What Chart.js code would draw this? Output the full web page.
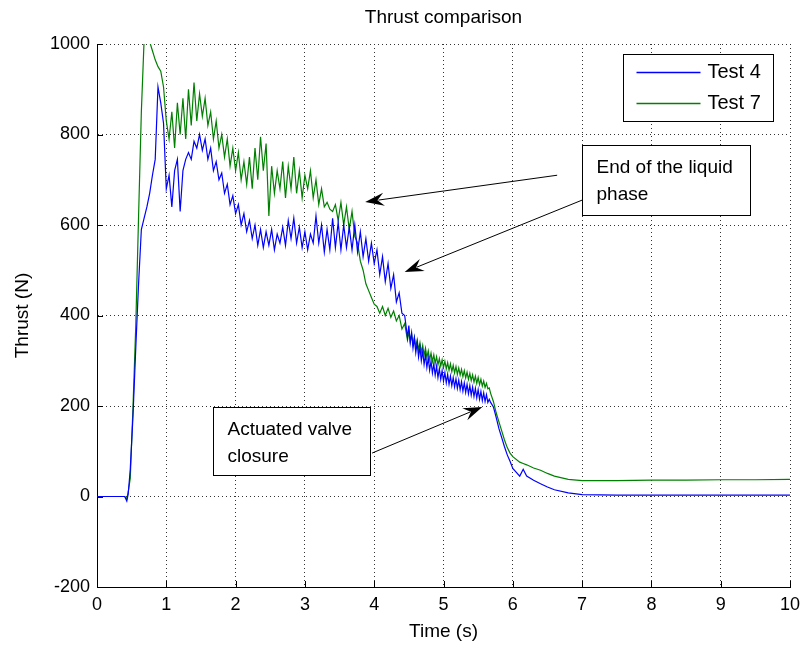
<!DOCTYPE html>
<html>
<head>
<meta charset="utf-8">
<script src="https://cdn.jsdelivr.net/npm/chart.js@4/dist/chart.umd.min.js"></script>
<style>
html,body{margin:0;padding:0;background:#fff;}
#wrap{width:800px;height:648px;position:relative;}
</style>
</head>
<body>
<div id="wrap"><canvas id="c" width="800" height="648"></canvas></div>
<script>
// ---------- data ----------
const chartTitle = 'Thrust comparison';
const xAxisTitle = 'Time (s)';
const yAxisTitle = 'Thrust (N)';
const seriesNames = ['Test 4', 'Test 7'];
const seriesColors = ['#0000ff', '#008000'];
const xTicks = [0, 1, 2, 3, 4, 5, 6, 7, 8, 9, 10];
const yTicks = [-200, 0, 200, 400, 600, 800, 1000];

const time = [
  0, 0.4, 0.43, 0.45,
  0.48, 0.52, 0.56, 0.60, 0.64, 0.68, 0.72, 0.76, 0.80, 0.84,
  0.88, 0.92, 0.96, 1.00, 1.04, 1.08, 1.12, 1.16, 1.20, 1.24,
  1.28, 1.32, 1.36, 1.40, 1.44, 1.48, 1.52, 1.56, 1.60, 1.64,
  1.68, 1.72, 1.76, 1.80, 1.84, 1.88, 1.92, 1.96, 2.00, 2.04,
  2.08, 2.12, 2.16, 2.20, 2.24, 2.28, 2.32, 2.36, 2.40, 2.44,
  2.48, 2.52, 2.56, 2.60, 2.64, 2.68, 2.72, 2.76, 2.80, 2.84,
  2.88, 2.92, 2.96, 3.00, 3.04, 3.08, 3.12, 3.16, 3.20, 3.24,
  3.28, 3.32, 3.36, 3.40, 3.44, 3.48, 3.52, 3.56, 3.60, 3.64,
  3.68, 3.72, 3.76, 3.80, 3.84, 3.88, 3.92, 3.96, 4.00, 4.04,
  4.08, 4.12, 4.16, 4.20, 4.24, 4.28, 4.32, 4.36, 4.40, 4.44,
  4.48, 4.50, 4.52, 4.54, 4.56, 4.58, 4.60, 4.62, 4.64, 4.66,
  4.68, 4.70, 4.72, 4.74, 4.76, 4.78, 4.80, 4.82, 4.84, 4.86,
  4.88, 4.90, 4.92, 4.94, 4.96, 4.98, 5.00, 5.02, 5.04, 5.06,
  5.08, 5.10, 5.12, 5.14, 5.16, 5.18, 5.20, 5.22, 5.24, 5.26,
  5.28, 5.30, 5.32, 5.34, 5.36, 5.38, 5.40, 5.42, 5.44, 5.46,
  5.48, 5.50, 5.52, 5.54, 5.56, 5.58, 5.60, 5.62, 5.64, 5.66,
  5.68, 5.72, 5.76, 5.80, 5.84, 5.88, 5.92, 5.96, 6.00,
  6.10, 6.15, 6.20, 6.30, 6.40, 6.50, 6.60, 6.80, 7.00, 7.50, 8.00, 8.50, 9.00, 9.50, 10.00
];

const thrustTest4 = [
  0, 0, -10, 5,
  60, 180, 330, 470, 590, 615, 640, 670, 710, 745,
  905, 870, 825, 680, 710, 640, 720, 745, 630, 720,
  745, 760, 745, 785, 770, 800, 765, 790, 745, 770,
  720, 740, 700, 715, 670, 690, 645, 665, 625, 645,
  600, 625, 585, 610, 570, 600, 555, 590, 550, 585,
  555, 590, 545, 580, 560, 595, 555, 610, 570, 615,
  560, 595, 550, 585, 545, 580, 560, 620, 560, 600,
  540, 590, 545, 615, 550, 605, 545, 600, 550, 595,
  545, 600, 540, 585, 530, 570, 520, 560, 515, 545,
  490, 530, 475, 515, 460, 490, 430, 450, 405, 400,
  352, 378, 340, 362, 328, 350, 318, 340, 308, 330,
  300, 321, 292, 313, 285, 306, 279, 299, 273, 293,
  268, 288, 263, 283, 259, 278, 255, 274, 251, 270,
  248, 266, 245, 263, 242, 260, 239, 257, 236, 254,
  233, 251, 230, 248, 227, 245, 224, 242, 221, 239,
  218, 236, 215, 232, 212, 229, 210, 225, 208, 215,
  208, 198, 175, 150, 130, 110, 92, 78, 62,
  45, 60, 45, 36, 28, 21, 15, 8, 4, 3, 3, 3, 3, 3, 3
];

const thrustTest7 = [
  0, 0, -5, 10,
  40, 200, 380, 620, 850, 1010, 1010, 1005, 985, 965,
  950, 940, 905, 830, 790, 850, 770, 870, 800, 880,
  790, 900, 820, 915, 830, 890, 840, 880, 820, 850,
  790, 830, 770, 800, 750, 790, 730, 770, 720, 760,
  700, 740, 690, 750, 680, 770, 700, 795, 720, 780,
  620, 730, 670, 720, 680, 740, 660, 730, 680, 750,
  670, 720, 660, 710, 680, 720, 660, 700, 645, 680,
  640, 650, 635, 630, 645, 610, 650, 600, 640, 590,
  630, 575, 560, 520, 500, 470, 455, 440, 425, 420,
  405, 420, 400, 416, 396, 410, 388, 400, 370, 382,
  346, 364, 342, 358, 336, 352, 330, 346, 324, 340,
  318, 334, 312, 328, 307, 322, 302, 317, 298, 313,
  294, 309, 291, 305, 288, 302, 285, 299, 282, 296,
  279, 293, 276, 290, 273, 287, 270, 284, 268, 281,
  265, 278, 262, 275, 259, 272, 256, 269, 253, 266,
  250, 263, 247, 259, 244, 255, 241, 250, 238, 240,
  228, 210, 185, 165, 145, 125, 108, 96, 88,
  76, 73, 70, 63, 58, 51, 45, 38, 35, 35, 36, 36, 37, 37, 38
];

// annotations (anchored in data units)
const noteBoxes = [
  { lines: ['End of the liquid', 'phase'], t0: 7.0, t1: 9.42, n0: 777, n1: 622 },
  { lines: ['Actuated valve', 'closure'], t0: 1.67, t1: 3.94, n0: 198, n1: 47 }
];
const noteArrows = [
  { from: [6.64, 710], to: [3.87, 651] },
  { from: [7.0, 655], to: [4.44, 496] },
  { from: [3.97, 96], to: [5.56, 198] }
];

// ---------- chart ----------
const FONT = '"Liberation Sans", Arial, sans-serif';

const overlay = {
  id: 'overlay',
  afterDatasetsDraw(chart) {
    const { ctx, chartArea: a, scales: { x, y } } = chart;
    ctx.save();
    // inward tick marks
    ctx.strokeStyle = '#000';
    ctx.lineWidth = 1;
    ctx.setLineDash([]);
    ctx.beginPath();
    xTicks.forEach(v => {
      const p = Math.round(x.getPixelForValue(v)) + 0.5;
      ctx.moveTo(p, a.bottom); ctx.lineTo(p, a.bottom - 6);
    });
    yTicks.forEach(v => {
      const p = Math.round(y.getPixelForValue(v)) + 0.5;
      ctx.moveTo(a.left, p); ctx.lineTo(a.left + 6, p);
    });
    ctx.stroke();

    // title
    ctx.fillStyle = '#000';
    ctx.font = '19px ' + FONT;
    ctx.textAlign = 'center';
    ctx.textBaseline = 'middle';
    ctx.fillText(chartTitle, (a.left + a.right) / 2, 18);

    // arrows
    noteArrows.forEach(ar => {
      const x0 = x.getPixelForValue(ar.from[0]), y0 = y.getPixelForValue(ar.from[1]);
      const x1 = x.getPixelForValue(ar.to[0]), y1 = y.getPixelForValue(ar.to[1]);
      const ang = Math.atan2(y1 - y0, x1 - x0);
      const L = 19, W = 6.5;
      const c = Math.cos(ang), s = Math.sin(ang);
      ctx.strokeStyle = '#000';
      ctx.lineWidth = 1;
      ctx.beginPath();
      ctx.moveTo(x0, y0);
      ctx.lineTo(x1 - c * L * 0.7, y1 - s * L * 0.7);
      ctx.stroke();
      ctx.fillStyle = '#000';
      ctx.beginPath();
      ctx.moveTo(x1, y1);
      ctx.lineTo(x1 - c * L - s * W, y1 - s * L + c * W);
      ctx.lineTo(x1 - c * L * 0.65, y1 - s * L * 0.65);
      ctx.lineTo(x1 - c * L + s * W, y1 - s * L - c * W);
      ctx.closePath();
      ctx.fill();
    });

    // text boxes
    noteBoxes.forEach(b => {
      const bx0 = Math.round(x.getPixelForValue(b.t0)) + 0.5;
      const bx1 = Math.round(x.getPixelForValue(b.t1)) + 0.5;
      const by0 = Math.round(y.getPixelForValue(b.n0)) + 0.5;
      const by1 = Math.round(y.getPixelForValue(b.n1)) + 0.5;
      ctx.fillStyle = '#fff';
      ctx.fillRect(bx0, by0, bx1 - bx0, by1 - by0);
      ctx.strokeStyle = '#000';
      ctx.lineWidth = 1;
      ctx.strokeRect(bx0, by0, bx1 - bx0, by1 - by0);
      ctx.fillStyle = '#000';
      ctx.font = '19px ' + FONT;
      ctx.textAlign = 'left';
      ctx.textBaseline = 'middle';
      b.lines.forEach((ln, i) => ctx.fillText(ln, bx0 + 14, by0 + 22 + i * 27));
    });

    // legend
    const lx0 = a.right - 166.5, ly0 = a.top + 10.5, lw = 150, lh = 67;
    ctx.fillStyle = '#fff';
    ctx.fillRect(lx0, ly0, lw, lh);
    ctx.strokeStyle = '#000';
    ctx.lineWidth = 1;
    ctx.strokeRect(lx0, ly0, lw, lh);
    ctx.font = '20px ' + FONT;
    ctx.textAlign = 'left';
    ctx.textBaseline = 'middle';
    seriesNames.forEach((nm, i) => {
      const ly = ly0 + 18 + i * 31;
      ctx.strokeStyle = seriesColors[i];
      ctx.lineWidth = 1.5;
      ctx.beginPath();
      ctx.moveTo(lx0 + 13, ly); ctx.lineTo(lx0 + 77, ly);
      ctx.stroke();
      ctx.fillStyle = '#000';
      ctx.fillText(nm, lx0 + 84, ly);
    });
    ctx.restore();
  }
};

const mkPts = vals => time.map((t, i) => ({ x: t, y: vals[i] }));

new Chart(document.getElementById('c'), {
  type: 'line',
  data: {
    datasets: [
      { label: seriesNames[0], data: mkPts(thrustTest4), borderColor: seriesColors[0], borderWidth: 1.2, pointRadius: 0, tension: 0, fill: false },
      { label: seriesNames[1], data: mkPts(thrustTest7), borderColor: seriesColors[1], borderWidth: 1.2, pointRadius: 0, tension: 0, fill: false }
    ]
  },
  options: {
    responsive: false,
    animation: false,
    devicePixelRatio: 1,
    layout: { padding: { top: 44, right: 10, left: 0, bottom: 0 } },
    plugins: { legend: { display: false }, title: { display: false }, tooltip: { enabled: false } },
    scales: {
      x: {
        type: 'linear', min: 0, max: 10,
        afterBuildTicks(s) { s.ticks = xTicks.map(v => ({ value: v })); },
        afterFit(s) { s.height = 61; s.paddingLeft = 0; s.paddingRight = 0; },
        ticks: { color: '#000', font: { family: FONT, size: 18 }, padding: 7, maxRotation: 0, autoSkip: false, callback: v => String(v) },
        grid: { color: '#333', lineWidth: 1, drawTicks: false },
        border: { display: true, color: '#000', width: 1, dash: [1, 3] },
        title: { display: true, text: xAxisTitle, color: '#000', font: { family: FONT, size: 19 }, padding: { top: 0, bottom: 5 } }
      },
      y: {
        type: 'linear', min: -200, max: 1000,
        afterBuildTicks(s) { s.ticks = yTicks.map(v => ({ value: v })); },
        afterFit(s) { s.width = 97; s.paddingTop = 0; s.paddingBottom = 0; },
        ticks: { color: '#000', font: { family: FONT, size: 18 }, padding: 7, autoSkip: false, callback: v => String(v) },
        grid: { color: '#333', lineWidth: 1, drawTicks: false },
        border: { display: true, color: '#000', width: 1, dash: [1, 3] },
        title: { display: true, text: yAxisTitle, color: '#000', font: { family: FONT, size: 19 }, padding: { top: 11, bottom: 0 } }
      }
    }
  },
  plugins: [overlay]
});
</script>
</body>
</html>
